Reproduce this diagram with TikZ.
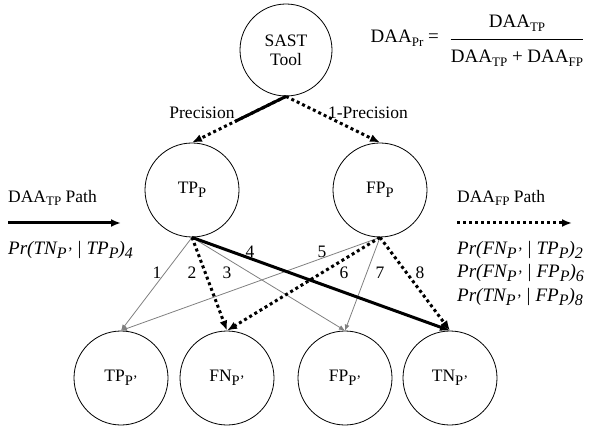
\documentclass[tikz,border=0pt]{standalone}
\usepackage{fontspec}
\setmainfont{Liberation Serif}
\usetikzlibrary{arrows.meta,calc}
\newcommand{\ms}[1]{\raisebox{-0.45ex}{\fontsize{14.5}{14.5}\selectfont #1}}
\newcommand{\mss}[1]{\raisebox{-0.4ex}{\fontsize{13}{13}\selectfont #1}}
\newcommand{\mis}[1]{\raisebox{-0.45ex}{\fontsize{16}{16}\selectfont #1}}
\begin{document}
\begin{tikzpicture}[x=1pt,y=-1pt,
  font=\fontsize{17.5}{21}\selectfont,
  stnode/.style={circle,draw,line width=0.8pt,minimum size=94pt,inner sep=0pt,align=center},
  tppath/.style={line width=3pt,-{Latex[length=10pt,width=8pt]}},
  fppath/.style={line width=3pt,dash pattern=on 3pt off 3pt,-{Latex[length=10pt,width=8pt]}},
  grey/.style={gray,line width=0.8pt,-{Latex[length=6pt,width=5pt]}},
  lbl/.style={inner sep=0pt},
  prl/.style={inner sep=0pt,anchor=west,font=\fontsize{19}{22}\selectfont\itshape},
  frm/.style={inner sep=0pt,font=\fontsize{19}{22}\selectfont}
]
\useasboundingbox (0,0) rectangle (594,430);
% nodes
\node[stnode,minimum size=92pt] (sast) at (286,50) {SAST\\[-2pt]Tool};
\node[stnode] (tpp) at (192,190) {TP\ms{P}};
\node[stnode] (fpp) at (380,190) {FP\ms{P}};
\node[stnode] (tpq) at (121,378) {TP\ms{P'}};
\node[stnode] (fnq) at (227,378) {FN\ms{P'}};
\node[stnode] (fpq) at (345,378) {FP\ms{P'}};
\node[stnode] (tnq) at (450,378) {TN\ms{P'}};
% top edges
\draw[fppath] (sast.south) -- (tpp.north);
\draw[line width=3pt] (sast.south) -- ($(sast.south)!0.54!(tpp.north)$) coordinate (half);
\draw[fppath] (sast.south) -- (fpp.north);
\node[lbl] (prec) at (202,113) {Precision};
\node[lbl] (oneprec) at (368,113) {1-Precision};
% bottom edges
\draw[grey] (tpp.south) -- (tpq.north);
\draw[grey] (tpp.south) -- (fpq.north);
\draw[grey] (fpp.south) -- (tpq.north);
\draw[grey] (fpp.south) -- (fpq.north);
\draw[tppath] (tpp.south) -- (tnq.north);
\draw[fppath] (tpp.south) -- (fnq.north);
\draw[fppath] (fpp.south) -- (fnq.north);
\draw[fppath] (fpp.south) -- (tnq.north);
\node[lbl] (l1) at (157,273) {1};
\node[lbl] (l2) at (192,273) {2};
\node[lbl] (l3) at (227,273) {3};
\node[lbl] (l4) at (250,252) {4};
\node[lbl] (l5) at (322,252) {5};
\node[lbl] (l6) at (344,273) {6};
\node[lbl] (l7) at (380,273) {7};
\node[lbl] (l8) at (420,273) {8};
% left legend
\node[lbl,anchor=west] (tplab) at (8,198) {DAA\mss{TP} Path};
\coordinate (tpa) at (8,223);
\coordinate (tpb) at (121,223);
\draw[tppath] (tpa) -- (tpb);
\node[prl] (pr4) at (8,250) {Pr(TN\mis{P'} | TP\mis{P})\mis{4}};
% right legend
\node[lbl,anchor=west] (fplab) at (457,198) {DAA\mss{FP} Path};
\coordinate (fpa) at (457,223);
\coordinate (fpb) at (572,223);
\draw[fppath] (fpa) -- (fpb);
\node[prl] (pr2) at (457,250) {Pr(FN\mis{P'} | TP\mis{P})\mis{2}};
\node[prl] (pr6) at (457,273) {Pr(FN\mis{P'} | FP\mis{P})\mis{6}};
\node[prl] (pr8) at (457,297) {Pr(TN\mis{P'} | FP\mis{P})\mis{8}};
% formula
\node[frm,anchor=east] (daapr) at (439,38) {DAA\mss{Pr} =};
\node[frm] (num) at (517,23) {DAA\mss{TP}};
\node[frm] (den) at (517,58) {DAA\mss{TP} + DAA\mss{FP}};
\draw[line width=0.6pt] (den.west |- 0,39) coordinate (fa) -- (den.east |- 0,39) coordinate (fb);
\end{tikzpicture}
\end{document}
